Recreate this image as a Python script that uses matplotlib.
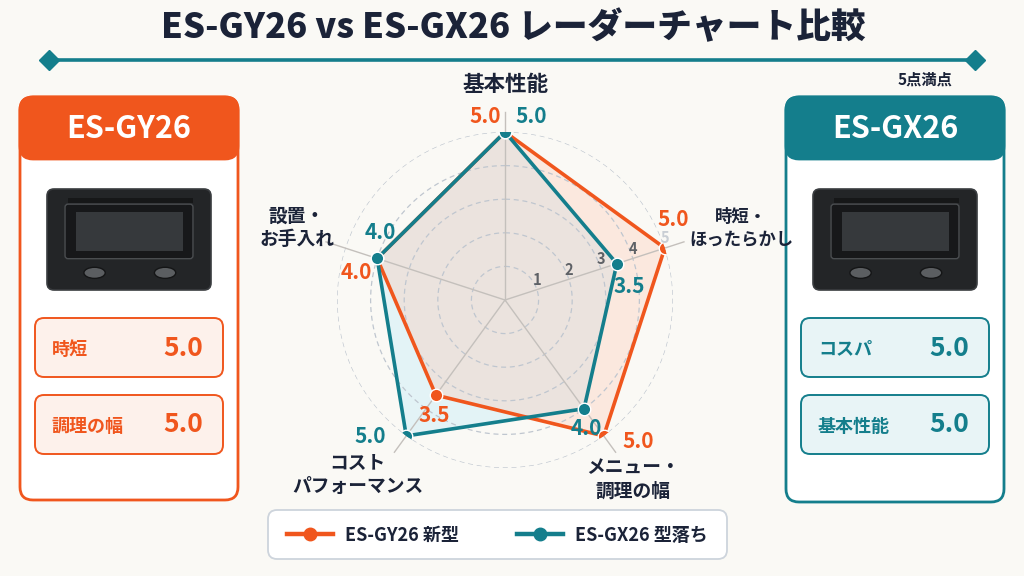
import numpy as np
import matplotlib
matplotlib.use("Agg")
import matplotlib.pyplot as plt
from matplotlib.patches import FancyBboxPatch, Ellipse, Rectangle

plt.rcParams['font.family'] = ['Noto Sans CJK JP', 'DejaVu Sans']

# ---------------- data ----------------
title = "ES-GY26 vs ES-GX26 レーダーチャート比較"
categories = ["基本性能", "時短・\nほったらかし", "メニュー・\n調理の幅", "コスト\nパフォーマンス", "設置・\nお手入れ"]
gy_values = [5.0, 5.0, 5.0, 3.5, 4.0]
gx_values = [5.0, 3.5, 4.0, 5.0, 4.0]
tick_values = [1, 2, 3, 4, 5]
series_names = ["ES-GY26 新型", "ES-GX26 型落ち"]
left_model = "ES-GY26"
right_model = "ES-GX26"
left_stats = ["時短", "調理の幅"]
left_stat_values = [5.0, 5.0]
right_stats = ["コスパ", "基本性能"]
right_stat_values = [5.0, 5.0]
scale_note = "5点満点"

# ---------------- style ----------------
BG = "#FAF9F5"
ORANGE = "#F0561D"
TEAL = "#147E8C"
NAVY = "#1B2338"
W, H = 1024, 576

fig = plt.figure(figsize=(W / 100, H / 100), dpi=100, facecolor=BG)
bg = fig.add_axes([0, 0, 1, 1], zorder=0)
bg.set_xlim(0, W)
bg.set_ylim(H, 0)
bg.axis("off")
bg.set_facecolor(BG)

# title + line
bg.text(513, 28, title, ha="center", va="center", fontsize=25, fontweight="heavy", color=NAVY)
bg.plot([49, 975], [60, 60], color=TEAL, lw=2.6, solid_capstyle="butt")
bg.plot([49, 975], [60, 60], ls="none", marker="D", ms=10, color=TEAL)
bg.text(925, 80, scale_note, ha="center", va="center", fontsize=11, fontweight="bold", color=NAVY)


def rbox(x0, y0, x1, y1, fc, ec, lw=1.6, r=12, z=1):
    p = FancyBboxPatch((x0, y0), x1 - x0, y1 - y0,
                       boxstyle=f"round,pad=0,rounding_size={r}",
                       fc=fc, ec=ec, lw=lw, zorder=z)
    bg.add_patch(p)
    return p


def device(x0, y0, x1, y1):
    w, h = x1 - x0, y1 - y0
    rbox(x0, y0, x1, y1, "#232527", "#3a3d40", lw=1.2, r=7, z=3)
    bg.add_patch(Rectangle((x0 + w * 0.13, y0 + h * 0.09), w * 0.76, h * 0.05,
                           fc="#161718", ec="none", zorder=4))
    rbox(x0 + w * 0.11, y0 + h * 0.15, x1 - w * 0.11, y0 + h * 0.69, "#17181a", "#4a4d50",
         lw=1.0, r=3, z=4)
    bg.add_patch(Rectangle((x0 + w * 0.175, y0 + h * 0.23), w * 0.655, h * 0.38,
                           fc="#36393c", ec="none", zorder=5))
    for fx in (0.29, 0.72):
        bg.add_patch(Ellipse((x0 + w * fx, y0 + h * 0.83), w * 0.13, h * 0.11,
                             fc="#5b5e61", ec="#141516", lw=1.0, zorder=5))


def panel(x0, x1, y0, y1, color, light, model, labels, values):
    rbox(x0, y0, x1, y1, "#FFFFFF", color, lw=2.0, r=13, z=1)
    rbox(x0, y0, x1, y0 + 62, color, color, lw=2.0, r=13, z=2)
    bg.text((x0 + x1) / 2, y0 + 32, model, ha="center", va="center", fontsize=22,
            fontweight="bold", color="white", zorder=3)
    cx = (x0 + x1) / 2
    device(cx - 82, 189, cx + 82, 290)
    for i, (lab, val) in enumerate(zip(labels, values)):
        by0 = 318 + i * 77
        rbox(x0 + 15, by0, x1 - 15, by0 + 59, light, color, lw=1.4, r=9, z=2)
        bg.text(x0 + 32, by0 + 31, lab, ha="left", va="center", fontsize=13,
                fontweight="bold", color=color, zorder=3)
        bg.text(x1 - 35, by0 + 30, f"{val:.1f}", ha="right", va="center", fontsize=19,
                fontweight="bold", color=color, zorder=3)


panel(20, 238, 97, 500, ORANGE, "#FDF1EB", left_model, left_stats, left_stat_values)
panel(786, 1004, 97, 502, TEAL, "#E8F4F6", right_model, right_stats, right_stat_values)

# legend box
rbox(268, 510, 727, 559, "#FFFFFF", "#CDD4DC", lw=1.3, r=9, z=1)
for (xa, xb, col, name) in [(287, 333, ORANGE, series_names[0]), (517, 563, TEAL, series_names[1])]:
    bg.plot([xa, xb], [534, 534], color=col, lw=3.2, zorder=3)
    bg.plot([(xa + xb) / 2], [534], marker="o", ms=9, color=col, zorder=4)
    bg.text(xb + 12, 535, name, ha="left", va="center", fontsize=13, fontweight="bold",
            color=NAVY, zorder=3)

# ---------------- radar ----------------
cx, cy, R = 505, 300, 168
ax = fig.add_axes([(cx - R) / W, (H - cy - R) / H, 2 * R / W, 2 * R / H],
                  projection="polar", zorder=2)
ax.set_facecolor("none")
ax.patch.set_alpha(0)
ax.set_theta_offset(np.pi / 2)
ax.set_theta_direction(-1)
ax.set_ylim(0, 5)
ax.grid(False)
ax.set_xticks([])
ax.set_yticks([])
ax.spines["polar"].set_visible(False)

n = len(categories)
angles = np.arange(n) * 2 * np.pi / n
ang_c = np.concatenate([angles, angles[:1]])
gy_c = np.concatenate([gy_values, gy_values[:1]])
gx_c = np.concatenate([gx_values, gx_values[:1]])

# fills
ax.fill(ang_c, gx_c, color="#E3F3F6", alpha=1.0, lw=0, zorder=1)
ax.fill(ang_c, gy_c, color="#FFC1A9", alpha=0.30, lw=0, zorder=1.5)

tt = np.linspace(0, 2 * np.pi, 361)
for r in tick_values:
    ax.plot(tt, np.full_like(tt, r), ls=(0, (4, 3)), color="#BFC6CF", lw=0.9, zorder=2)
for a in angles:
    ax.plot([a, a], [0, 5.6], color="#C4C0BC", lw=1.0, zorder=2, clip_on=False)

ax.plot(ang_c, gy_c, color=ORANGE, lw=2.6, zorder=4, solid_joinstyle="round")
ax.plot(angles, gy_values, ls="none", marker="o", ms=9, color=ORANGE, mec="white",
        mew=1.0, zorder=5)
ax.plot(ang_c, gx_c, color=TEAL, lw=2.6, zorder=6, solid_joinstyle="round")
ax.plot(angles, gx_values, ls="none", marker="o", ms=9, color=TEAL, mec="white",
        mew=1.0, zorder=7)

# tick labels along second axis
for r in tick_values:
    ax.annotate(str(r), xy=(angles[1], r), xytext=(0, 7), textcoords="offset points",
                ha="center", va="center", fontsize=10.5, fontweight="bold",
                color="#5E6166" if r < 5 else "#C9CED4", zorder=3)

# value labels (offsets in points)
gy_off = [(-14, 11), (6, 20.5), (24.5, -4), (-1.5, -14.5), (-15, -10)]
gx_off = [(19, 11), (9, -16.5), (1.5, -14.5), (-26, -0.5), (2, 19)]
for a, v, off in zip(angles, gy_values, gy_off):
    ax.annotate(f"{v:.1f}", xy=(a, v), xytext=off, textcoords="offset points",
                ha="center", va="center", fontsize=15, fontweight="bold", color=ORANGE,
                zorder=8, annotation_clip=False)
for a, v, off in zip(angles, gx_values, gx_off):
    ax.annotate(f"{v:.1f}", xy=(a, v), xytext=off, textcoords="offset points",
                ha="center", va="center", fontsize=15, fontweight="bold", color=TEAL,
                zorder=8, annotation_clip=False)

# category labels
cat_off = [(0, 34), (55, 14.4), (21, -31), (-35, -28), (-35, 14.4)]
cat_fs = [15.5, 12.5, 13.5, 13.5, 13.5]
for a, lab, off, fs in zip(angles, categories, cat_off, cat_fs):
    ax.annotate(lab, xy=(a, 5), xytext=off, textcoords="offset points",
                ha="center", va="center", fontsize=fs, fontweight="bold", color=NAVY,
                linespacing=1.3, annotation_clip=False, zorder=8)

fig.savefig("out.png", dpi=100, facecolor=BG)
